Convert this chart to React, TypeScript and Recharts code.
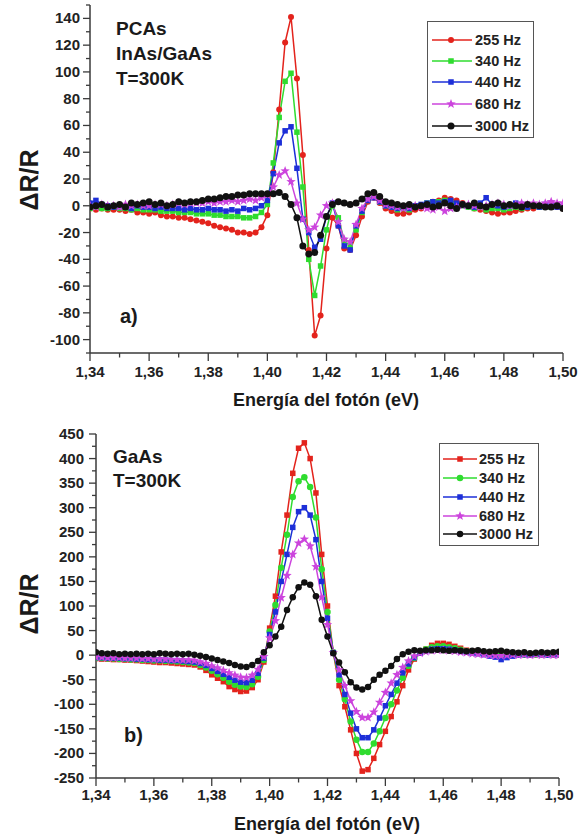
import { LineChart, Line, XAxis, YAxis, Legend } from "recharts";

// photon energy grid (eV), shared by both panels
const energia = [
  1.34, 1.342, 1.344, 1.346, 1.348, 1.35, 1.352, 1.354, 1.356, 1.358,
  1.36, 1.362, 1.364, 1.366, 1.368, 1.37, 1.372, 1.374, 1.376, 1.378,
  1.38, 1.382, 1.384, 1.386, 1.388, 1.39, 1.392, 1.394, 1.396, 1.398,
  1.4, 1.402, 1.404, 1.406, 1.408, 1.41, 1.412, 1.414, 1.416, 1.418,
  1.42, 1.422, 1.424, 1.426, 1.428, 1.43, 1.432, 1.434, 1.436, 1.438,
  1.44, 1.442, 1.444, 1.446, 1.448, 1.45, 1.452, 1.454, 1.456, 1.458,
  1.46, 1.462, 1.464, 1.466, 1.468, 1.47, 1.472, 1.474, 1.476, 1.478,
  1.48, 1.482, 1.484, 1.486, 1.488, 1.49, 1.492, 1.494, 1.496, 1.498, 1.5,
];

const frecuencias = ["255 Hz", "340 Hz", "440 Hz", "680 Hz", "3000 Hz"];

// a) PCAs InAs/GaAs
const a255 = [
  -2, -3, -2, -3, -3, -3, -4, -3, -5, -5,
  -6, -5, -7, -8, -8, -9, -9, -10, -11, -12,
  -13, -15, -16, -17, -18, -20, -20, -21, -20, -16,
  -7, 25, 72, 122, 141, 95, 38, -33, -97, -82,
  -32, -9, -15, -32, -33, -22, -8, 3, 6, 2,
  -2, -4, -6, -6, -5, -3, -2, 1, 3, 4,
  6, 5, 4, 2, 0, -2, -3, -4, -5, -6,
  -5, -5, -4, -3, -2, -2, -1, 0, -1, -1,
  -2,
];
const a340 = [
  -2, -1, -2, -2, -1, -2, -2, -3, -2, -3,
  -3, -3, -4, -4, -4, -5, -5, -5, -6, -6,
  -6, -7, -7, -8, -8, -8, -9, -9, -8, -5,
  1, 32, 66, 93, 99, 55, 14, -40, -67, -45,
  -18, 0, -9, -26, -30, -18, -5, 4, 7, 3,
  0, -1, -3, -2, -3, -1, 0, 2, 3, 3,
  4, 3, 1, 0, -1, -2, -1, -3, -2, -2,
  -3, -2, -1, -2, -1, 0, -1, 0, -1, 0,
  -1,
];
const a440 = [
  2, 4, 1, 0, -1, 0, -1, -2, 0, -1,
  -1, -2, -1, -2, -2, -2, -3, -2, -3, -3,
  -2, -3, -3, -4, -3, -4, -2, -3, -2, 0,
  4, 24, 47, 56, 59, 28, -10, -20, -31, -25,
  -8, 2, -15, -30, -33, -15, -4, 4, 6, 3,
  0, -1, -2, -1, -2, 0, 1, 2, 3, 2,
  3, 4, 2, 1, 0, -1, 2, 6, 1, 0,
  -1, 0, 2, 1, -1, 0, -1, 1, 0, -1,
  -1,
];
const a680 = [
  0, -1, 1, 0, 0, -1, 1, 0, 1, 0,
  0, 1, 1, 0, 1, 2, 1, 2, 2, 2,
  3, 2, 3, 3, 4, 3, 4, 5, 4, 6,
  8, 14, 23, 26, 18, 2, -10, -18, -16, -7,
  0, 2, -12, -25, -27, -14, -2, 5, 7, 4,
  1, 0, -1, -2, -1, 0, -1, -2, -3, -1,
  -4, -2, -1, 0, 1, 0, -1, 0, 1, 2,
  1, 0, 1, 2, 1, 2, 1, 2, 3, 2,
  2,
];
const a3000 = [
  -1, 0, 1, -1, 0, 1, -1, 2, 1, 2,
  3, 1, 2, 0, 1, 3, 2, 3, 3, 4,
  5, 5, 6, 7, 7, 8, 8, 9, 9, 9,
  9, 9, 10, 7, 1, -9, -30, -36, -35, -22,
  -8, 1, 3, 2, 1, 2, 5, 9, 10, 7,
  3, 2, 1, 0, 1, -1, 0, 1, -1, 0,
  2, 0, -2, 1, 0, 2, 0, -1, 1, 2,
  0, 1, 0, -1, 1, 0, 0, -1, -1, 0,
  -2,
];

// b) GaAs
const b255 = [
  -7, -8, -8, -9, -9, -10, -10, -11, -12, -13,
  -14, -15, -15, -16, -17, -18, -19, -20, -24, -31,
  -40, -47, -54, -64, -70, -74, -73, -66, -50, -14,
  55, 120, 210, 285, 370, 421, 432, 400, 330, 205,
  100, 5, -62, -105, -152, -200, -236, -233, -210, -182,
  -155, -125, -95, -62, -30, -8, 5, 12, 20, 24,
  24, 22, 18, 14, 10, 8, 6, 5, 4, 3,
  3, 2, 3, 2, 2, 1, 2, 1, 2, 1,
  2,
];
const b340 = [
  -6, -6, -7, -7, -8, -8, -9, -9, -10, -10,
  -11, -11, -12, -12, -13, -14, -15, -16, -20, -25,
  -32, -39, -46, -54, -60, -64, -65, -59, -44, -10,
  48, 102, 178, 245, 322, 354, 362, 342, 280, 175,
  88, 6, -50, -90, -135, -172, -197, -197, -180, -155,
  -128, -100, -72, -46, -22, -6, 5, 12, 16, 18,
  18, 16, 14, 11, 8, 7, 5, 4, 4, 3,
  3, 2, 3, 2, 1, 2, 1, 2, 1, 2,
  1,
];
const b440 = [
  -5, -5, -6, -6, -6, -7, -7, -8, -8, -9,
  -9, -10, -10, -11, -11, -12, -13, -14, -17, -21,
  -27, -33, -39, -45, -51, -55, -56, -51, -37, -6,
  42, 88, 150, 205, 260, 292, 300, 285, 235, 150,
  75, 5, -40, -80, -118, -150, -168, -168, -152, -128,
  -103, -80, -57, -36, -18, -5, 4, 9, 12, 13,
  13, 12, 10, 8, 6, 4, 3, 1, -2, -4,
  -9, -5, -2, 0, 1, 0, 2, 1, 0, 1,
  1,
];
const b680 = [
  -4, -4, -5, -5, -5, -6, -6, -6, -7, -7,
  -8, -8, -8, -9, -9, -10, -10, -11, -14, -17,
  -22, -26, -31, -36, -41, -45, -46, -41, -29, -3,
  35, 70, 117, 162, 205, 228, 236, 222, 180, 118,
  62, 5, -30, -62, -93, -115, -127, -127, -116, -96,
  -76, -57, -40, -25, -12, -2, 4, 7, 9, 10,
  10, 9, 8, 6, 5, 3, 2, 1, 0, -1,
  -1, 0, 1, 0, 1, 0, 1, 0, 1, 0,
  0,
];
const b3000 = [
  6, 4, 3, 4, 2, 3, 2, 3, 2, 3,
  2, 4, 3, 2, 3, 2, 3, 1, -1, -4,
  -7, -10, -13, -16, -20, -23, -24, -20, -12, 6,
  20, 38, 58, 92, 118, 138, 148, 143, 120, 72,
  38, 4, -15, -35, -55, -66, -70, -65, -50, -40,
  -32, -22, -8, 2, 7, 10, 9, 10, 10, 11,
  10, 9, 10, 9, 8, 9, 10, 8, 7, 8,
  9, 7, 6, 5, 6, 4, 5, 6, 5, 6,
  7,
];

const xTicks = [
  1.34, 1.35, 1.36, 1.37, 1.38, 1.39, 1.4, 1.41, 1.42,
  1.43, 1.44, 1.45, 1.46, 1.47, 1.48, 1.49, 1.5,
];
const yTicksA = [
  -110, -100, -90, -80, -70, -60, -50, -40, -30, -20, -10, 0,
  10, 20, 30, 40, 50, 60, 70, 80, 90, 100, 110, 120, 130, 140, 150,
];
const yTicksB = [
  -250, -225, -200, -175, -150, -125, -100, -75, -50, -25, 0,
  25, 50, 75, 100, 125, 150, 175, 200, 225, 250, 275, 300, 325,
  350, 375, 400, 425, 450,
];

const FONT = '"Liberation Sans", Arial, sans-serif';
const AXIS = "#3a3a3a";
const KEYS = ["s255", "s340", "s440", "s680", "s3000"];
const COLORS = ["#e3231c", "#2fdc2f", "#1d2fd8", "#cc44dd", "#111111"];

const dataA = energia.map((e, i) => ({
  e, s255: a255[i], s340: a340[i], s440: a440[i], s680: a680[i], s3000: a3000[i],
}));
const dataB = energia.map((e, i) => ({
  e, s255: b255[i], s340: b340[i], s440: b440[i], s680: b680[i], s3000: b3000[i],
}));

type Shape = "circle" | "square" | "star";
const shapesA: Shape[] = ["circle", "square", "square", "star", "circle"];
const shapesB: Shape[] = ["square", "circle", "square", "star", "circle"];
const sizesA = [6, 5.5, 5.5, 8, 7];
const sizesB = [5.5, 6.5, 5.5, 8, 6.5];

const Marker = ({ cx, cy, shape, color, size }: any) => {
  if (cx == null || cy == null || isNaN(cx) || isNaN(cy)) return <g />;
  if (shape === "circle") return <circle cx={cx} cy={cy} r={size / 2} fill={color} />;
  if (shape === "square")
    return <rect x={cx - size / 2} y={cy - size / 2} width={size} height={size} fill={color} />;
  const pts: string[] = [];
  for (let k = 0; k < 10; k++) {
    const r = k % 2 === 0 ? size * 0.62 : size * 0.26;
    const a = -Math.PI / 2 + (k * Math.PI) / 5;
    pts.push(`${cx + r * Math.cos(a)},${cy + r * Math.sin(a)}`);
  }
  return <polygon points={pts.join(" ")} fill={color} />;
};

const XTick = ({ x, y, payload, labelGap }: any) => {
  const v = payload.value as number;
  const major = Math.round((v - 1.34) * 100) % 2 === 0;
  return (
    <g>
      <line x1={x} x2={x} y1={y} y2={y + (major ? 8 : 4.5)} stroke={AXIS} strokeWidth={1.3} />
      {major && (
        <text x={x} y={y + labelGap} textAnchor="middle" fontFamily={FONT} fontWeight="bold" fontSize={15} fill="#222">
          {v.toFixed(2).replace(".", ",")}
        </text>
      )}
    </g>
  );
};

const YTick = ({ x, y, payload, step, gap }: any) => {
  const v = payload.value as number;
  const major = Math.abs(v) % step === 0;
  return (
    <g>
      <line x1={x - (major ? 7 : 4)} x2={x} y1={y} y2={y} stroke={AXIS} strokeWidth={1.3} />
      {major && (
        <text x={x - gap} y={y + 5} textAnchor="end" fontFamily={FONT} fontWeight="bold" fontSize={15} fill="#222">
          {v}
        </text>
      )}
    </g>
  );
};

const LegendBox = ({ w, h, rows, lineX, markX, textX, shapes, sizes }: any) => (
  <svg width={w} height={h} style={{ display: "block" }}>
    <rect x={0.5} y={0.5} width={w - 1} height={h - 1} fill="#fff" stroke="#555" strokeWidth={1} />
    {frecuencias.map((f, i) => (
      <g key={f}>
        <line x1={lineX[0]} x2={lineX[1]} y1={rows[i]} y2={rows[i]} stroke={COLORS[i]} strokeWidth={1.6} />
        <Marker cx={markX} cy={rows[i]} shape={shapes[i]} color={COLORS[i]} size={sizes[i]} />
        <text x={textX} y={rows[i] + 5} fontFamily={FONT} fontWeight="bold" fontSize={14.5} fill="#222">
          {f}
        </text>
      </g>
    ))}
  </svg>
);

const renderLines = (shapes: Shape[], sizes: number[]) =>
  KEYS.map((k, i) => (
    <Line
      key={k}
      dataKey={k}
      name={frecuencias[i]}
      type="linear"
      stroke={COLORS[i]}
      strokeWidth={1.5}
      isAnimationActive={false}
      activeDot={false}
      dot={(p: any) => (
        <Marker key={`${k}-${p.index}`} cx={p.cx} cy={p.cy} shape={shapes[i]} color={COLORS[i]} size={sizes[i]} />
      )}
    />
  ));

const txt = { fontFamily: FONT, fontWeight: "bold" as const, fill: "#1a1a1a" };

export default function App() {
  return (
    <div style={{ position: "absolute", left: 0, top: 0, width: 583, height: 839, background: "#fff" }}>
      <div style={{ position: "absolute", left: 0, top: 0 }}>
        <LineChart width={583} height={410} data={dataA} margin={{ top: 5, right: 20, bottom: 0, left: 0 }}>
          <XAxis
            dataKey="e" type="number" domain={[1.34, 1.5]} ticks={xTicks} interval={0}
            height={57} tickSize={0} tickMargin={0} tickLine={false}
            axisLine={{ stroke: AXIS, strokeWidth: 1.5 }} allowDataOverflow
            tick={(p: any) => <XTick {...p} labelGap={24} />}
          />
          <XAxis xAxisId="top" orientation="top" type="number" domain={[1.34, 1.5]} height={0}
            tick={false} tickLine={false} axisLine={{ stroke: AXIS, strokeWidth: 1.5 }} />
          <YAxis
            type="number" domain={[-110, 150]} ticks={yTicksA} interval={0} width={90}
            tickSize={0} tickMargin={0} tickLine={false} allowDataOverflow
            axisLine={{ stroke: AXIS, strokeWidth: 1.5 }}
            tick={(p: any) => <YTick {...p} step={20} gap={10} />}
          />
          <YAxis yAxisId="right" orientation="right" type="number" domain={[-110, 150]} width={0}
            tick={false} tickLine={false} axisLine={{ stroke: AXIS, strokeWidth: 1.5 }} />
          <Legend
            layout="vertical" align="center" verticalAlign="middle"
            wrapperStyle={{ left: 427, top: 21, width: 107, height: 117 }}
            content={() => (
              <LegendBox w={107} h={117} rows={[19, 40, 61, 83, 105]} lineX={[5, 45]} markX={24}
                textX={48} shapes={shapesA} sizes={sizesA} />
            )}
          />
          {renderLines(shapesA, sizesA)}
        </LineChart>
      </div>
      <div style={{ position: "absolute", left: 0, top: 410 }}>
        <LineChart width={583} height={429} data={dataB} margin={{ top: 24, right: 24, bottom: 0, left: 0 }}>
          <XAxis
            dataKey="e" type="number" domain={[1.34, 1.5]} ticks={xTicks} interval={0}
            height={61} tickSize={0} tickMargin={0} tickLine={false}
            axisLine={{ stroke: AXIS, strokeWidth: 1.5 }} allowDataOverflow
            tick={(p: any) => <XTick {...p} labelGap={22} />}
          />
          <XAxis xAxisId="top" orientation="top" type="number" domain={[1.34, 1.5]} height={0}
            tick={false} tickLine={false} axisLine={{ stroke: AXIS, strokeWidth: 1.5 }} />
          <YAxis
            type="number" domain={[-250, 450]} ticks={yTicksB} interval={0} width={96}
            tickSize={0} tickMargin={0} tickLine={false} allowDataOverflow
            axisLine={{ stroke: AXIS, strokeWidth: 1.5 }}
            tick={(p: any) => <YTick {...p} step={50} gap={12} />}
          />
          <YAxis yAxisId="right" orientation="right" type="number" domain={[-250, 450]} width={0}
            tick={false} tickLine={false} axisLine={{ stroke: AXIS, strokeWidth: 1.5 }} />
          <Legend
            layout="vertical" align="center" verticalAlign="middle"
            wrapperStyle={{ left: 439, top: 33, width: 100, height: 103 }}
            content={() => (
              <LegendBox w={100} h={103} rows={[16, 35, 54, 73, 91]} lineX={[4, 38]} markX={21}
                textX={40} shapes={shapesB} sizes={sizesB} />
            )}
          />
          {renderLines(shapesB, sizesB)}
        </LineChart>
      </div>
      <svg width={583} height={839} style={{ position: "absolute", left: 0, top: 0, pointerEvents: "none" }}>
        <text x={116} y={35} fontSize={19} {...txt}>PCAs</text>
        <text x={116} y={60} fontSize={19} {...txt}>InAs/GaAs</text>
        <text x={116} y={85} fontSize={19} {...txt}>T=300K</text>
        <text x={120} y={323} fontSize={20} {...txt}>a)</text>
        <text x={113} y={463} fontSize={19} {...txt}>GaAs</text>
        <text x={113} y={487} fontSize={19} {...txt}>T=300K</text>
        <text x={124} y={742} fontSize={20} {...txt}>b)</text>
        <text transform="translate(29,180) rotate(-90)" textAnchor="middle" dy="0.36em" fontSize={25} {...txt}>ΔR/R</text>
        <text transform="translate(29,604) rotate(-90)" textAnchor="middle" dy="0.36em" fontSize={25} {...txt}>ΔR/R</text>
        <text x={326} y={406} textAnchor="middle" fontSize={18} {...txt}>Energía del fotón (eV)</text>
        <text x={327} y={830} textAnchor="middle" fontSize={18} {...txt}>Energía del fotón (eV)</text>
      </svg>
    </div>
  );
}
